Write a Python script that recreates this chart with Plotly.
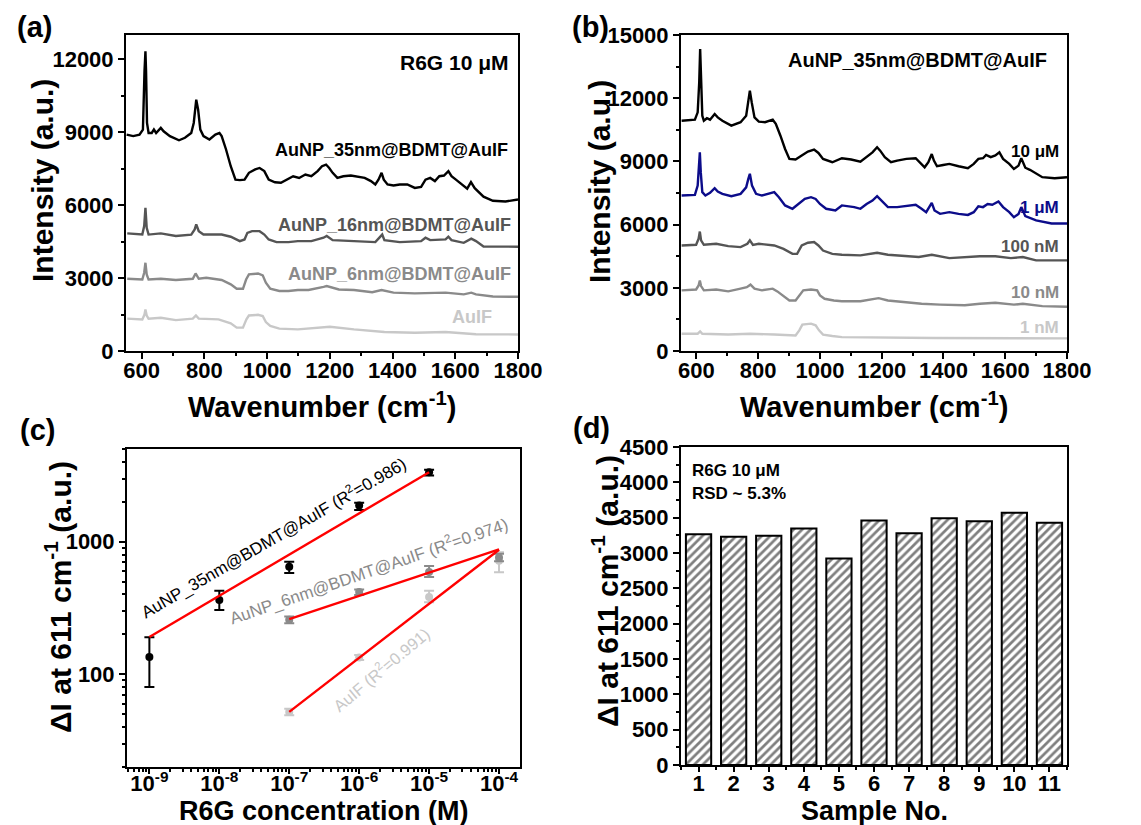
import plotly.graph_objects as go

# ---------------- DATA ----------------
# (a) SERS spectra, R6G 10 uM on different substrates
A35_wn = [552, 573, 593, 604, 609, 612, 614, 617, 622, 632, 639, 646, 661, 670, 690, 719, 738, 758, 766, 774, 780, 787, 797, 816, 835, 848, 855, 869, 884, 899, 913, 928, 942, 962, 976, 991, 1005, 1025, 1044, 1064, 1083, 1102, 1122, 1141, 1161, 1175, 1188, 1198, 1209, 1224, 1243, 1267, 1292, 1311, 1331, 1345, 1355, 1365, 1372, 1384, 1403, 1423, 1447, 1471, 1491, 1505, 1520, 1535, 1549, 1564, 1578, 1588, 1602, 1622, 1638, 1650, 1662, 1690, 1720, 1760, 1800]
A35_I = [8900, 8840, 8900, 9110, 11510, 12330, 11510, 9380, 8970, 8970, 9110, 8970, 9180, 9040, 8840, 8670, 8770, 8970, 9380, 10340, 9930, 9110, 8840, 8700, 8900, 8970, 8840, 8290, 7600, 7050, 7030, 7050, 7330, 7470, 7530, 7400, 7050, 6940, 6920, 7050, 7190, 7120, 7260, 7190, 7400, 7600, 7670, 7530, 7330, 7120, 7190, 7220, 7160, 7120, 6990, 6850, 7050, 7330, 7050, 6850, 6810, 6850, 6850, 6710, 6750, 7050, 7120, 6990, 7190, 7220, 7400, 7190, 7050, 6850, 6680, 6950, 6700, 6350, 6180, 6150, 6230]

A16_wn = [554, 602, 608, 612, 616, 622, 661, 709, 758, 769, 774, 782, 797, 855, 884, 913, 928, 937, 952, 976, 991, 1005, 1030, 1068, 1098, 1141, 1180, 1190, 1209, 1277, 1345, 1367, 1374, 1423, 1491, 1505, 1520, 1569, 1578, 1588, 1627, 1651, 1666, 1690, 1750, 1800]
A16_I = [4840, 4790, 5140, 5890, 5070, 4790, 4840, 4730, 4790, 5000, 5210, 4930, 4790, 4790, 4700, 4520, 4590, 4860, 4930, 4930, 4790, 4590, 4480, 4480, 4520, 4520, 4660, 4730, 4560, 4520, 4480, 4790, 4560, 4480, 4520, 4660, 4560, 4590, 4700, 4560, 4450, 4620, 4520, 4300, 4280, 4290]

A6_wn = [554, 602, 608, 612, 616, 622, 661, 709, 763, 772, 782, 806, 855, 884, 903, 923, 933, 942, 971, 986, 996, 1010, 1039, 1068, 1098, 1132, 1180, 1190, 1229, 1277, 1335, 1365, 1403, 1471, 1569, 1627, 1651, 1666, 1720, 1800]
A6_I = [2970, 2940, 3220, 3630, 3150, 2940, 2970, 2920, 2970, 3190, 2970, 3010, 2920, 2740, 2560, 2560, 2940, 3150, 3190, 3110, 2810, 2560, 2470, 2470, 2510, 2510, 2640, 2670, 2530, 2510, 2420, 2510, 2400, 2370, 2400, 2330, 2400, 2330, 2240, 2230]

AIF_wn = [554, 602, 609, 612, 616, 622, 661, 709, 763, 773, 782, 845, 884, 903, 923, 934, 942, 971, 986, 996, 1010, 1039, 1098, 1180, 1200, 1277, 1374, 1471, 1569, 1666, 1720, 1800]
AIF_I = [1330, 1300, 1500, 1710, 1460, 1330, 1370, 1270, 1330, 1460, 1330, 1300, 1140, 960, 960, 1300, 1460, 1490, 1440, 1190, 1030, 920, 890, 990, 1000, 890, 780, 750, 780, 690, 680, 680]

# (b) SERS spectra on AuNP_35nm@BDMT@AuIF, different R6G concentrations
B10u_wn = [552, 595, 604, 609, 612, 615, 619, 624, 634, 644, 659, 669, 684, 713, 743, 761, 768, 773, 779, 788, 802, 822, 847, 857, 872, 887, 901, 921, 941, 961, 981, 995, 1010, 1040, 1071, 1101, 1131, 1151, 1170, 1185, 1195, 1210, 1230, 1250, 1280, 1310, 1324, 1339, 1351, 1362, 1369, 1379, 1399, 1419, 1449, 1479, 1498, 1513, 1528, 1538, 1553, 1568, 1581, 1593, 1613, 1628, 1643, 1652, 1665, 1680, 1720, 1760, 1800]
B10u_I = [10930, 10980, 11330, 12750, 14330, 12750, 11170, 10930, 11050, 10980, 11250, 11090, 10930, 10700, 10860, 11170, 11960, 12360, 11800, 11090, 10890, 10860, 10980, 10780, 10220, 9590, 9120, 9090, 9280, 9470, 9560, 9400, 9120, 8960, 9150, 9090, 8990, 9200, 9430, 9670, 9510, 9200, 8960, 9040, 9120, 9150, 8960, 8720, 8960, 9350, 9040, 8770, 8830, 8880, 8770, 8680, 8880, 9120, 9150, 9310, 9200, 9280, 9430, 9120, 8880, 8640, 8800, 9150, 8700, 8600, 8250, 8200, 8250]

B1u_wn = [552, 595, 604, 608, 611, 614, 619, 629, 644, 659, 669, 684, 713, 743, 761, 768, 773, 780, 793, 812, 832, 852, 867, 887, 911, 931, 951, 971, 986, 1000, 1020, 1050, 1071, 1111, 1131, 1151, 1170, 1185, 1200, 1220, 1250, 1280, 1310, 1329, 1344, 1362, 1371, 1389, 1419, 1449, 1479, 1498, 1513, 1528, 1543, 1558, 1578, 1593, 1613, 1628, 1643, 1652, 1665, 1700, 1750, 1800]
B1u_I = [7380, 7410, 7850, 8800, 9430, 8490, 7540, 7380, 7510, 7730, 7570, 7460, 7350, 7460, 7770, 8170, 8410, 7850, 7460, 7380, 7460, 7540, 7300, 6910, 6750, 6980, 7220, 7300, 7220, 6980, 6750, 6670, 6910, 6830, 6750, 6980, 7140, 7350, 7140, 6830, 6830, 6870, 6940, 6750, 6590, 7030, 6670, 6510, 6590, 6510, 6460, 6590, 6870, 6830, 6980, 6940, 7100, 6830, 6590, 6350, 6510, 6830, 6400, 6200, 6050, 6050]

B100n_wn = [552, 599, 607, 611, 615, 624, 664, 703, 743, 765, 773, 783, 802, 852, 882, 911, 926, 941, 961, 981, 995, 1010, 1040, 1071, 1131, 1185, 1220, 1270, 1320, 1362, 1419, 1518, 1568, 1618, 1657, 1700, 1800]
B100n_I = [5010, 5040, 5330, 5670, 5250, 5040, 5090, 4980, 4930, 5090, 5250, 5040, 5090, 5010, 4850, 4610, 4610, 5010, 5140, 5170, 5010, 4770, 4610, 4570, 4540, 4660, 4570, 4500, 4460, 4570, 4410, 4500, 4500, 4410, 4460, 4300, 4300]

B10n_wn = [552, 599, 607, 611, 615, 624, 664, 703, 743, 763, 775, 788, 812, 847, 862, 882, 901, 921, 933, 946, 971, 991, 1000, 1015, 1045, 1071, 1131, 1170, 1190, 1220, 1270, 1329, 1389, 1469, 1518, 1568, 1628, 1657, 1720, 1800]
B10n_I = [2880, 2920, 3110, 3350, 3080, 2880, 2920, 2830, 2960, 3030, 3150, 2960, 2880, 2960, 2830, 2610, 2400, 2400, 2640, 2880, 2920, 2880, 2640, 2480, 2400, 2360, 2360, 2450, 2510, 2400, 2320, 2240, 2200, 2170, 2240, 2290, 2200, 2240, 2130, 2100]

B1n_wn = [552, 604, 612, 619, 703, 773, 852, 921, 933, 943, 971, 986, 997, 1010, 1040, 1071, 1369, 1657, 1800]
B1n_I = [820, 820, 930, 820, 780, 820, 780, 740, 980, 1250, 1300, 1220, 980, 780, 710, 660, 620, 620, 600]

# (c) calibration: delta I at 611 cm-1 vs R6G concentration
C35_conc = [1e-9, 1e-8, 1e-7, 1e-6, 1e-5]
C35_val = [135, 363, 647, 1875, 3350]
C35_errp = [55, 63, 58, 98, 150]
C35_errm = [55, 58, 65, 135, 190]
C6_conc = [1e-7, 1e-6, 1e-5, 1e-4]
C6_val = [258, 417, 590, 762]
C6_errp = [15, 20, 67, 50]
C6_errm = [15, 20, 48, 50]
CIF_conc = [1e-7, 1e-6, 1e-5, 1e-4]
CIF_val = [52, 134, 383, 720]
CIF_errp = [3, 6, 44, 112]
CIF_errm = [3, 6, 33, 132]
FIT35_conc = [1e-9, 1e-5]
FIT35_val = [191, 3350]
FIT6_conc = [1e-7, 1e-4]
FIT6_val = [261, 875]
FITIF_conc = [1e-7, 1e-4]
FITIF_val = [52, 870]
C_xticks = [1e-9, 1e-8, 1e-7, 1e-6, 1e-5, 1e-4]
C_xticktext = ["10<sup>-9</sup>", "10<sup>-8</sup>", "10<sup>-7</sup>", "10<sup>-6</sup>", "10<sup>-5</sup>", "10<sup>-4</sup>"]

# (d) reproducibility
D_sample = [1, 2, 3, 4, 5, 6, 7, 8, 9, 10, 11]
D_val = [3266, 3229, 3243, 3347, 2922, 3460, 3280, 3493, 3450, 3569, 3428]

# ---------------- FIGURE ----------------
W, H = 1141, 825
FONT = "Liberation Sans, Arial, sans-serif"
BLACK, DGRAY, MGRAY, LGRAY, NAVY = "#000000", "#555555", "#8a8a8a", "#c8c8c8", "#0c0c8a"


def fx(x):
    return x / W


def fy(y):
    return 1 - y / H


fig = go.Figure()

# (a)
for wn, I, c in [(AIF_wn, AIF_I, LGRAY), (A6_wn, A6_I, MGRAY), (A16_wn, A16_I, DGRAY), (A35_wn, A35_I, BLACK)]:
    fig.add_trace(go.Scatter(x=wn, y=I, mode="lines", line=dict(color=c, width=2.4),
                             xaxis="x", yaxis="y", showlegend=False))
# (b)
for wn, I, c in [(B1n_wn, B1n_I, LGRAY), (B10n_wn, B10n_I, MGRAY), (B100n_wn, B100n_I, DGRAY),
                 (B1u_wn, B1u_I, NAVY), (B10u_wn, B10u_I, BLACK)]:
    fig.add_trace(go.Scatter(x=wn, y=I, mode="lines", line=dict(color=c, width=2.4),
                             xaxis="x2", yaxis="y2", showlegend=False))
# (c)
for cx, cy, ep, em, c in [(CIF_conc, CIF_val, CIF_errp, CIF_errm, LGRAY),
                          (C6_conc, C6_val, C6_errp, C6_errm, MGRAY),
                          (C35_conc, C35_val, C35_errp, C35_errm, BLACK)]:
    fig.add_trace(go.Scatter(x=cx, y=cy, mode="markers", marker=dict(color=c, size=8),
                             error_y=dict(type="data", array=ep, arrayminus=em, symmetric=False,
                                          color=c, thickness=2, width=5),
                             xaxis="x3", yaxis="y3", showlegend=False))
for cx, cy in [(FITIF_conc, FITIF_val), (FIT6_conc, FIT6_val), (FIT35_conc, FIT35_val)]:
    fig.add_trace(go.Scatter(x=cx, y=cy, mode="lines", line=dict(color="#ff0000", width=2.4),
                             xaxis="x3", yaxis="y3", showlegend=False))
# (d)
fig.add_trace(go.Bar(x=D_sample, y=D_val, width=0.72,
                     marker=dict(color="white", line=dict(color="black", width=2),
                                 pattern=dict(shape="/", fgcolor="black", bgcolor="white", size=6, solidity=0.45)),
                     xaxis="x4", yaxis="y4", showlegend=False))

TICKFONT = dict(family=FONT, size=22, color="black", weight="bold")


def axstyle(**kw):
    d = dict(showline=True, linewidth=2, linecolor="black", mirror=True, ticks="outside",
             ticklen=6, tickwidth=2, tickcolor="black", showgrid=False, zeroline=False,
             tickfont=TICKFONT, automargin=False)
    d.update(kw)
    return d


def minor_small(dt):
    return dict(dtick=dt, ticks="outside", ticklen=3, tickwidth=1.5, tickcolor="black", showgrid=False)


a_x = [118, 510]; a_y = [27, 343]
b_x = [673, 1059]; b_y = [27, 343]
c_x = [119, 512]; c_y = [441, 759]
d_x = [673, 1059]; d_y = [439, 757]

minor_log_x = [m * 10.0 ** e for e in range(-10, -3) for m in range(2, 10)]
minor_log_y = [m * 10.0 ** e for e in range(1, 4) for m in range(2, 10)]

fig.update_layout(
    width=W, height=H, margin=dict(l=0, r=0, t=0, b=0),
    paper_bgcolor="white", plot_bgcolor="white",
    font=dict(family=FONT, color="black"),
    xaxis=axstyle(domain=[fx(a_x[0]), fx(a_x[1])], range=[550, 1800], tick0=600, dtick=200,
                  minor=minor_small(100), anchor="y", ticklabelstandoff=-7),
    yaxis=axstyle(domain=[fy(a_y[1]), fy(a_y[0])], range=[0, 13000], tick0=0, dtick=3000,
                  tickformat="d", minor=minor_small(1500), anchor="x"),
    xaxis2=axstyle(domain=[fx(b_x[0]), fx(b_x[1])], range=[550, 1800], tick0=600, dtick=200,
                   minor=minor_small(100), anchor="y2", ticklabelstandoff=-7),
    yaxis2=axstyle(domain=[fy(b_y[1]), fy(b_y[0])], range=[0, 15000], tick0=0, dtick=3000,
                   tickformat="d", minor=minor_small(1500), anchor="x2"),
    xaxis3=axstyle(domain=[fx(c_x[0]), fx(c_x[1])], type="log", range=[-9.32, -3.7],
                   tickmode="array", tickvals=C_xticks, ticktext=C_xticktext, ticklabelstandoff=-9,
                   ticklen=5,
                   minor=dict(tickmode="array", tickvals=minor_log_x, ticks="outside", ticklen=3,
                              tickwidth=1.5, tickcolor="black", showgrid=False), anchor="y3"),
    yaxis3=axstyle(domain=[fy(c_y[1]), fy(c_y[0])], type="log", range=[1.3, 3.7],
                   tickmode="array", tickvals=[100, 1000], ticktext=["100", "1000"],
                   minor=dict(tickmode="array", tickvals=minor_log_y, ticks="outside", ticklen=3,
                              tickwidth=1.5, tickcolor="black", showgrid=False), anchor="x3"),
    xaxis4=axstyle(domain=[fx(d_x[0]), fx(d_x[1])], range=[0.5, 11.5], tick0=1, dtick=1, ticklen=5,
                   minor=minor_small(0.5), anchor="y4", ticklabelstandoff=-7),
    yaxis4=axstyle(domain=[fy(d_y[1]), fy(d_y[0])], range=[0, 4500], tick0=0, dtick=500,
                   tickformat="d", minor=minor_small(250), anchor="x4"),
)

ann = []


def add_text(text, x, y, size, color="black", bold=True, xanchor="center", yanchor="middle", angle=0):
    ann.append(dict(text=text, x=fx(x), y=fy(y), xref="paper", yref="paper", showarrow=False,
                    xanchor=xanchor, yanchor=yanchor, textangle=angle,
                    font=dict(family=FONT, size=size, color=color, weight="bold" if bold else "normal")))


# panel labels
add_text("(a)", 26, 19, 29)
add_text("(b)", 582, 19, 29)
add_text("(c)", 29, 422, 29)
add_text("(d)", 583, 420, 29)

# axis titles
wn_title = "Wavenumber (cm<sup>-1</sup>)"
add_text(wn_title, 314, 397, 29)
add_text(wn_title, 866, 397, 29)
add_text("Intensity (a.u.)", 34, 173, 30, angle=-90)
add_text("Intensity (a.u.)", 591, 174, 30, angle=-90)
dI_title = "ΔI at 611 cm<sup>-1</sup> (a.u.)"
add_text(dI_title, 50, 589, 30, angle=-90)
add_text(dI_title, 597, 583, 30, angle=-90)
add_text("R6G concentration (M)", 316, 803, 27)
add_text("Sample No.", 866, 803, 27)

# (a) labels
add_text("R6G 10 μM", 503, 55, 21, xanchor="right")
add_text("AuNP_35nm@BDMT@AuIF", 502, 142, 18, xanchor="right")
add_text("AuNP_16nm@BDMT@AuIF", 505, 217, 18, color=DGRAY, xanchor="right")
add_text("AuNP_6nm@BDMT@AuIF", 505, 266, 18, color=MGRAY, xanchor="right")
add_text("AuIF", 464, 309, 18, color=LGRAY)

# (b) labels
add_text("AuNP_35nm@BDMT@AuIF", 910, 52, 20)
add_text("10 μM", 1053, 143, 17, xanchor="right")
add_text("1 μM", 1053, 199, 17, color=NAVY, xanchor="right")
add_text("100 nM", 1053, 238, 17, color=DGRAY, xanchor="right")
add_text("10 nM", 1053, 284, 17, color=MGRAY, xanchor="right")
add_text("1 nM", 1053, 319, 17, color=LGRAY, xanchor="right")

# (c) labels
add_text("AuNP_35nm@BDMT@AuIF (R<sup>2</sup>=0.986)", 265, 529, 17, bold=False, angle=-30)
add_text("AuNP_6nm@BDMT@AuIF (R<sup>2</sup>=0.974)", 361, 562, 17, color=MGRAY, bold=False, angle=-19)
add_text("AuIF (R<sup>2</sup>=0.991)", 373, 661, 16.5, color=LGRAY, bold=False, angle=-40)

# (d) labels
add_text("R6G 10 μM", 682, 462, 17, xanchor="left")
add_text("RSD ~ 5.3%", 682, 485, 17, xanchor="left")

fig.update_layout(annotations=ann)
fig.write_html("out.html")
